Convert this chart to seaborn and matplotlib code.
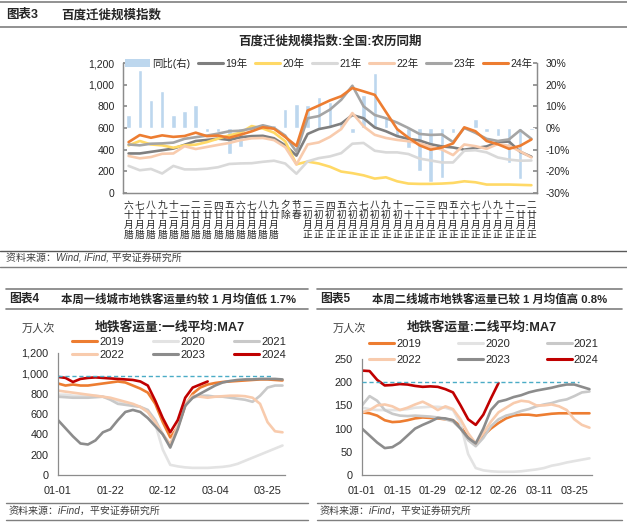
import numpy as np
import pandas as pd
import matplotlib
matplotlib.use("Agg")
import matplotlib.pyplot as plt
import seaborn as sns
from matplotlib.lines import Line2D
from matplotlib.patches import Patch
from matplotlib.ticker import FuncFormatter

sns.set_theme(style="white")
plt.rcParams["font.family"] = ["Liberation Sans", "Noto Sans CJK SC", "DejaVu Sans"]
plt.rcParams["axes.unicode_minus"] = False

# ---------------- data: chart 3 (lunar calendar aligned) ----------------
lunar_days = ['腊月十六', '腊月十七', '腊月十八', '腊月十九', '腊月二十', '腊月廿一', '腊月廿二',
              '腊月廿三', '腊月廿四', '腊月廿五', '腊月廿六', '腊月廿七', '腊月廿八', '腊月廿九',
              '除夕', '春节', '正月初二', '正月初三', '正月初四', '正月初五', '正月初六', '正月初七',
              '正月初八', '正月初九', '正月初十', '正月十一', '正月十二', '正月十三', '正月十四',
              '正月十五', '正月十六', '正月十七', '正月十八', '正月十九', '正月二十', '正月廿一', '正月廿二']
yoy_pct = [6, 27, 12.8, 17.2, 5.8, 7.8, 10.7, -1.7, -1.7, -12, -8.6, -1.5, 2, 1.5, 9, 11.3, 10.5,
           14.5, 11.8, 3.2, -2.5, 15.2, 25.4, 4.8, -3.5, -9, -20, -25, -23, -2.3, 0.5, 4, -1.7,
           -3.8, -16, -23.6, -1]
y19 = [365, 365, 380, 395, 410, 445, 480, 490, 502, 490, 515, 525, 528, 505, 440, 345, 545, 590,
       610, 640, 720, 690, 605, 570, 525, 500, 485, 450, 430, 420, 400, 415, 430, 470, 475, 380, 335]
y20 = [440, 480, 448, 440, 418, 440, 446, 470, 502, 532, 557, 618, 595, 557, 477, 265, 290, 272,
       242, 198, 183, 163, 133, 145, 108, 87, 84, 84, 87, 93, 108, 99, 78, 78, 78, 75, 72]
y21 = [250, 210, 222, 180, 250, 218, 218, 224, 238, 268, 273, 275, 288, 298, 272, 178, 292, 322,
       338, 368, 455, 462, 390, 375, 375, 360, 318, 300, 282, 282, 390, 395, 375, 328, 308, 298, 300]
y22 = [342, 320, 332, 362, 365, 432, 406, 425, 444, 462, 488, 505, 508, 488, 423, 263, 448, 467,
       518, 590, 738, 615, 537, 508, 490, 478, 458, 427, 401, 350, 448, 432, 408, 452, 435, 384, 328]
y23 = [448, 440, 455, 458, 465, 500, 515, 530, 548, 570, 575, 595, 625, 600, 530, 380, 690, 710,
       770, 860, 990, 800, 720, 690, 650, 600, 545, 536, 540, 470, 600, 555, 500, 480, 495, 580, 500]
y24 = [470, 535, 510, 532, 518, 526, 557, 525, 530, 510, 538, 569, 607, 593, 517, 434, 761, 807,
       855, 893, 969, 938, 906, 748, 590, 511, 440, 400, 420, 458, 606, 570, 480, 450, 408, 436, 494]
top_names = ['19年', '20年', '21年', '22年', '23年', '24年']
top_colors = ['#7F7F7F', '#FFD966', '#D9D9D9', '#F8CBAD', '#A5A5A5', '#ED7D31']

# ---------------- data: chart 4 / 5 (subway MA7) ----------------
days = list(range(0, 91, 3))
years = ['2019', '2020', '2021', '2022', '2023', '2024']
sub_colors = ['#ED7D31', '#E3E3E3', '#C9C9C9', '#F8CBAD', '#8C8C8C', '#C00000']

t1_2019 = [900, 880, 890, 880, 880, 890, 900, 910, 920, 910, 880, 850, 810, 700, 520, 370, 470, 680,
           800, 860, 890, 905, 915, 920, 925, 930, 935, 940, 940, 935, 930]
t1_2020 = [790, 790, 780, 775, 775, 780, 770, 750, 730, 700, 690, 670, 620, 500, 250, 100, 85, 75,
           70, 70, 70, 75, 80, 90, 110, 140, 170, 200, 230, 260, 290]
t1_2021 = [770, 765, 760, 760, 760, 765, 770, 740, 700, 690, 680, 670, 640, 540, 400, 300, 480, 700,
           760, 780, 780, 770, 770, 760, 750, 740, 720, 780, 860, 880, 880]
t1_2022 = [830, 820, 810, 800, 790, 780, 770, 760, 740, 720, 700, 670, 620, 520, 400, 300, 480, 700,
           780, 770, 760, 770, 775, 780, 780, 775, 760, 700, 520, 430, 420]
t1_2023 = [540, 460, 380, 310, 300, 340, 420, 450, 540, 620, 640, 620, 560, 480, 400, 270, 450, 680,
           760, 800, 840, 880, 910, 925, 935, 940, 940, 945, 945, 945, 940]
t1_2024 = [965, 955, 915, 945, 955, 960, 955, 950, 945, 940, 935, 920, 880, 730, 560, 420, 540, 760,
           860, 890, 920]
t1_jan_avg = 975

t2_2019 = [135, 133, 128, 118, 114, 115, 118, 122, 124, 123, 122, 120, 118, 105, 80, 68, 85, 100,
           112, 122, 128, 130, 130, 128, 130, 132, 133, 133, 133, 133, 133]
t2_2020 = [145, 142, 140, 140, 140, 140, 142, 145, 146, 147, 147, 145, 140, 110, 45, 15, 10, 8,
           7, 7, 7, 8, 10, 12, 15, 20, 23, 27, 30, 33, 36]
t2_2021 = [150, 170, 160, 140, 132, 128, 127, 128, 127, 126, 124, 120, 115, 100, 75, 62, 80, 105,
           120, 128, 132, 138, 142, 148, 152, 155, 160, 163, 170, 178, 180]
t2_2022 = [135, 140, 150, 152, 148, 140, 145, 152, 158, 150, 140, 148, 142, 120, 90, 68, 90, 115,
           135, 145, 155, 160, 158, 150, 150, 152, 148, 140, 120, 108, 102]
t2_2023 = [100, 85, 70, 58, 60, 70, 85, 100, 108, 115, 123, 122, 118, 100, 80, 68, 100, 140,
           158, 162, 168, 172, 178, 182, 185, 188, 192, 195, 195, 190, 185]
t2_2024 = [225, 224, 205, 193, 194, 196, 195, 192, 190, 191, 190, 185, 178, 150, 120, 108, 130, 165,
           198]
t2_jan_avg = 200

left_ticks = [0, 21, 42, 63, 84]
left_ticklabels = ['01-01', '01-22', '02-12', '03-04', '03-25']
right_ticks = [0, 14, 28, 42, 56, 70, 84]
right_ticklabels = ['01-01', '01-15', '01-29', '02-12', '02-26', '03-11', '03-25']

# ---------------- figure ----------------
W, H = 627, 528
fig = plt.figure(figsize=(W / 100, H / 100), dpi=100)
fig.patch.set_facecolor('white')


def fx(x):
    return x / W


def fy(y):
    return 1 - y / H


def hline(x0, x1, y, color='#595959', lw=1.0):
    fig.add_artist(Line2D([fx(x0), fx(x1)], [fy(y), fy(y)], transform=fig.transFigure,
                          color=color, lw=lw))


SPINE = '#8C8C8C'
TXT = '#262626'
LW = 1.9

# headers / footers
hline(0, 627, 1.5, '#7F7F7F', 1.2)
hline(0, 627, 27, '#7F7F7F', 1.2)
fig.text(fx(6), fy(15), '图表3', fontsize=9, fontweight='bold', va='center', color=TXT)
fig.text(fx(61), fy(15), '百度迁徙规模指数', fontsize=9, fontweight='bold', va='center', color=TXT)
hline(0, 627, 251, '#595959', 1.0)
fig.text(fx(6), fy(258.5), '资料来源：Wind, iFind, 平安证券研究所', fontsize=7.2, style='italic',
         va='center', color='#404040')
hline(0, 627, 267, '#7F7F7F', 1.0)

for x0, x1, num, txt in [(6, 308, '图表4', '本周一线城市地铁客运量约较 1 月均值低 1.7%'),
                         (317, 622, '图表5', '本周二线城市地铁客运量已较 1 月均值高 0.8%')]:
    hline(x0, x1, 289, '#7F7F7F', 1.2)
    hline(x0, x1, 308.5, '#7F7F7F', 1.2)
    fig.text(fx(x0 + 3), fy(299), num, fontsize=8.5, fontweight='bold', va='center', color=TXT)
    fig.text(fx(x0 + 55), fy(299), txt, fontsize=8.2, fontweight='bold', va='center', color=TXT)
    hline(x0, x1, 503, '#7F7F7F', 1.0)
    fig.text(fx(x0 + 3), fy(511), '资料来源：iFind，平安证券研究所', fontsize=7.2, style='italic',
             va='center', color='#404040')
    hline(x0, x1, 519.5, '#7F7F7F', 1.0)

# ---------------- chart 3 ----------------
ax2 = fig.add_axes([fx(123), fy(193), fx(537) - fx(123), fy(63) - fy(193)])
ax = ax2.twinx()
ax.yaxis.tick_left()
ax.yaxis.set_label_position('left')
ax2.yaxis.tick_right()
ax2.yaxis.set_label_position('right')

pos = np.arange(len(lunar_days))
sns.barplot(x=pos, y=yoy_pct, ax=ax2, color='#BDD7EE', width=0.4, saturation=1, zorder=1)

top_df = pd.DataFrame({
    'pos': np.tile(pos, len(top_names)),
    'val': np.concatenate([y19, y20, y21, y22, y23, y24]),
    'series': np.repeat(top_names, len(pos)),
})
sns.lineplot(data=top_df, x='pos', y='val', hue='series', hue_order=top_names,
             palette=dict(zip(top_names, top_colors)), linewidth=LW, ax=ax, legend=False)
ax.set_zorder(ax2.get_zorder() + 1)
ax.patch.set_visible(False)

ax.set_xlim(-0.5, len(pos) - 0.5)
ax2.set_xlim(-0.5, len(pos) - 0.5)
ax.set_ylim(0, 1200)
ax2.set_ylim(-30, 30)
ax.set_yticks(range(0, 1201, 200))
ax.yaxis.set_major_formatter(FuncFormatter(lambda v, p: f'{int(v):,}'))
ax2.set_yticks(range(-30, 31, 10))
ax2.yaxis.set_major_formatter(FuncFormatter(lambda v, p: f'{int(v)}%'))
ax.set_xlabel('')
ax.set_ylabel('')
ax2.set_xlabel('')
ax2.set_ylabel('')

ax2.set_xticks(pos)
ax2.set_xticklabels(['\n'.join(reversed(s)) for s in lunar_days], fontsize=7, linespacing=1.0,
                    va='top', color=TXT)
ax2.set_xticks(np.arange(-0.5, len(pos), 1), minor=True)
ax2.tick_params(axis='x', which='major', length=0, pad=5)
ax2.tick_params(axis='x', which='minor', length=3, direction='in', color=SPINE, width=0.8)
ax.tick_params(axis='x', which='both', length=0, labelbottom=False)
ax.tick_params(axis='y', which='major', length=3, direction='in', color=SPINE, labelsize=7.5,
               labelcolor=TXT, pad=6, left=True)
ax2.tick_params(axis='y', which='major', length=3, direction='in', color=SPINE, labelsize=7.5,
                labelcolor=TXT, pad=6, right=True)
for a in (ax, ax2):
    for s in a.spines.values():
        s.set_color(SPINE)
        s.set_linewidth(0.9)
    a.spines['top'].set_visible(False)
    a.grid(False)

handles = [Patch(facecolor='#BDD7EE', edgecolor='none')] + \
          [Line2D([], [], color=c, lw=LW + 0.3) for c in top_colors]
ax.legend(handles, ['同比(右)'] + top_names, ncol=7, loc='center', bbox_to_anchor=(0.497, 1.0),
          frameon=False, fontsize=7.5, handlelength=2.35, handleheight=0.75, columnspacing=0.75,
          handletextpad=0.25, borderaxespad=0, borderpad=0, labelcolor=TXT)
fig.text(fx(330), fy(42), '百度迁徙规模指数:全国:农历同期', fontsize=9, fontweight='bold',
         ha='center', va='center', color=TXT)


# ---------------- charts 4 and 5 ----------------
def subway(rect, series, jan_avg, ymax, ystep, ticks, ticklabels, title, title_x, unit_x, leg_x,
           leg_top, leg_col_space, leg_row_space):
    a = fig.add_axes(rect)
    frames = []
    for yr, vals in zip(years, series):
        frames.append(pd.DataFrame({'day': days[:len(vals)], 'val': vals, 'year': yr}))
    df = pd.concat(frames, ignore_index=True)
    sns.lineplot(data=df, x='day', y='val', hue='year', hue_order=years,
                 palette=dict(zip(years, sub_colors)), linewidth=LW, ax=a, legend=False)
    a.axhline(jan_avg, xmin=0, xmax=86 / 91, color='#4BACC6', lw=1.0, ls=(0, (3, 2)), zorder=5)
    a.set_xlim(0, 91)
    a.set_ylim(0, ymax)
    a.set_yticks(np.arange(0, ymax + 1, ystep))
    a.yaxis.set_major_formatter(FuncFormatter(lambda v, p: f'{int(v):,}'))
    a.set_xticks(ticks)
    a.set_xticklabels(ticklabels)
    a.set_xlabel('')
    a.set_ylabel('')
    a.tick_params(axis='both', labelsize=7.8, labelcolor=TXT, length=3, color=SPINE,
                  direction='out', width=0.8)
    a.tick_params(axis='y', pad=4)
    a.tick_params(axis='x', pad=5)
    for s in ['top', 'right']:
        a.spines[s].set_visible(False)
    for s in ['left', 'bottom']:
        a.spines[s].set_color(SPINE)
        a.spines[s].set_linewidth(0.9)
    a.grid(False)
    order = [0, 3, 1, 4, 2, 5]
    hs = [Line2D([], [], color=sub_colors[i], lw=LW + 0.3) for i in order]
    fig.legend(hs, [years[i] for i in order], ncol=3, loc='upper left',
               bbox_to_anchor=(fx(leg_x), fy(leg_top)), frameon=False, fontsize=8,
               handlelength=2.25, handletextpad=0.2, columnspacing=leg_col_space,
               labelspacing=leg_row_space, borderpad=0, borderaxespad=0, labelcolor=TXT)
    fig.text(fx(title_x), fy(327), title, fontsize=9.2, fontweight='bold', ha='center',
             va='center', color=TXT)
    fig.text(fx(unit_x), fy(328.5), '万人次', fontsize=8, ha='left', va='center', color='#404040')
    return a


subway([fx(58), fy(475), fx(285) - fx(58), fy(353) - fy(475)],
       [t1_2019, t1_2020, t1_2021, t1_2022, t1_2023, t1_2024], t1_jan_avg, 1200, 200,
       left_ticks, left_ticklabels, '地铁客运量:一线平均:MA7', 170, 22, 72, 337, 2.6, 0.25)
subway([fx(362), fy(475), fx(592) - fx(362), fy(359) - fy(475)],
       [t2_2019, t2_2020, t2_2021, t2_2022, t2_2023, t2_2024], t2_jan_avg, 250, 50,
       right_ticks, right_ticklabels, '地铁客运量:二线平均:MA7', 482, 333, 369, 339, 3.3, 0.5)

fig.savefig('out.png', dpi=100, facecolor='white')
